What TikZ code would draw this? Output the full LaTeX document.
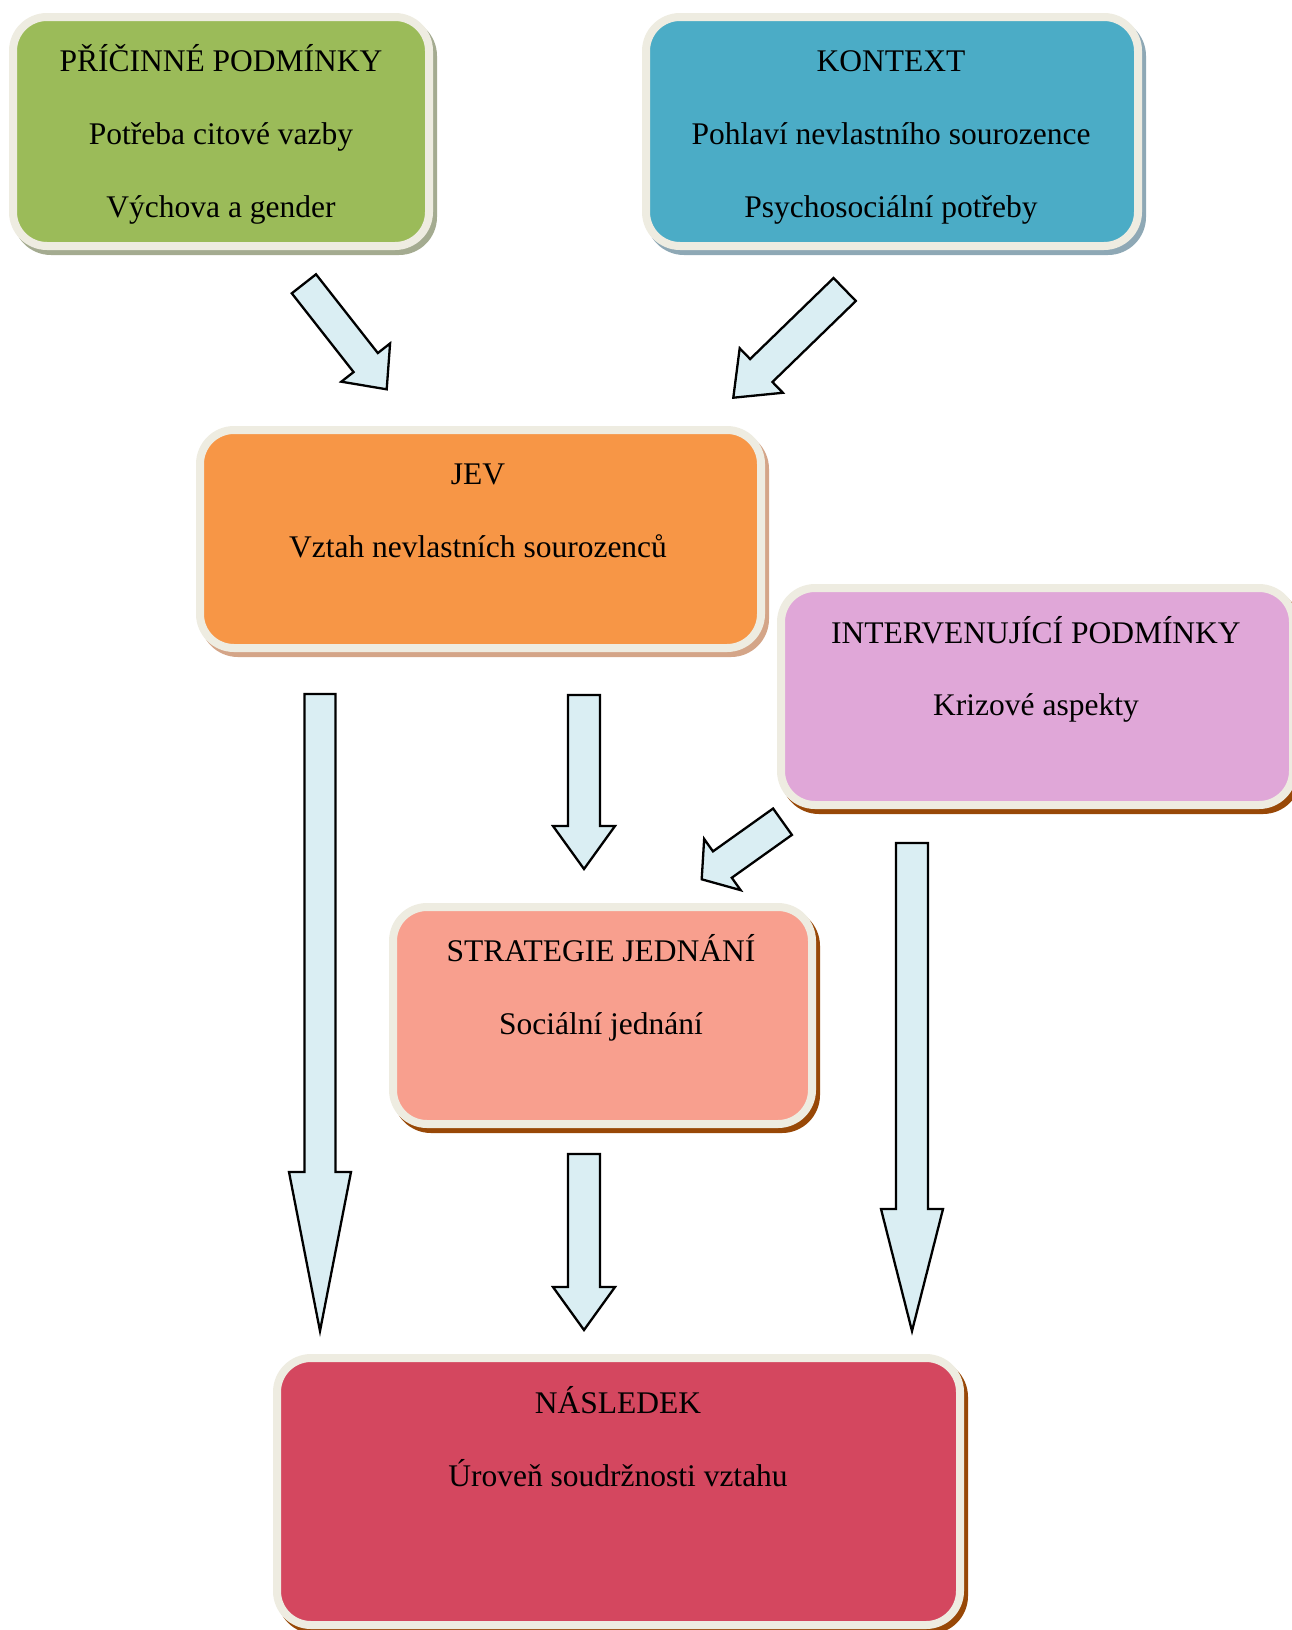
\documentclass[tikz,border=0pt]{standalone}
\usepackage{fontspec}
\setmainfont{Liberation Serif}
\usetikzlibrary{calc,shadows}
\definecolor{cream}{HTML}{EEECE1}
\definecolor{cgreen}{HTML}{9BBB59}
\definecolor{cblue}{HTML}{4BACC6}
\definecolor{corange}{HTML}{F79646}
\definecolor{cviolet}{HTML}{E0A7D8}
\definecolor{csalmon}{HTML}{F89F8E}
\definecolor{cred}{HTML}{D4475F}
\definecolor{afill}{HTML}{DAEEF3}
\definecolor{shgreen}{HTML}{A4AB90}
\definecolor{shblue}{HTML}{8EA8B5}
\definecolor{shtan}{HTML}{D4A588}
\definecolor{shbrown}{HTML}{984807}
\tikzset{
  box/.style={rectangle, rounded corners=34pt, draw=cream, line width=8pt, inner sep=0pt},
  sh/.style={general shadow={fill=#1, draw=#1, shadow xshift=4pt, shadow yshift=-5pt}},
  txt/.style={font=\fontsize{31.5}{36}\selectfont, anchor=base, inner sep=0pt},
  barrow/.style={draw=black, line width=2.3pt, fill=afill, line join=miter}
}
\newcommand\blockarr[5]{%
  \coordinate (hb) at ($(#2)!#5!(#1)$);
  \draw[barrow] ($(#1)!#3!90:(#2)$) -- ($(hb)!#3!-90:(#1)$) -- ($(hb)!#4!-90:(#1)$) -- (#2)
    -- ($(hb)!#4!90:(#1)$) -- ($(hb)!#3!90:(#1)$) -- ($(#1)!#3!-90:(#2)$) -- cycle;}
\begin{document}
\begin{tikzpicture}[x=1pt,y=-1pt]
\useasboundingbox (0,0) rectangle (1292,1630);

% boxes
\node[box, sh=shgreen, fill=cgreen, minimum width=416pt, minimum height=229pt] (cause) at (221,131.5) {};
\node[box, sh=shblue, fill=cblue, minimum width=492pt, minimum height=229pt] (ctx) at (892,131.5) {};
\node[box, sh=shtan, fill=corange, minimum width=561pt, minimum height=218pt] (jev) at (480.5,539) {};
\node[box, sh=shbrown, fill=cviolet, minimum width=512pt, minimum height=217pt] (interv) at (1037,696.5) {};
\node[box, sh=shbrown, fill=csalmon, minimum width=419pt, minimum height=217pt] (strat) at (602.5,1015.5) {};
\node[box, sh=shbrown, fill=cred, minimum width=683pt, minimum height=267pt] (nasl) at (618.5,1491.5) {};

% texts
\node[txt] (c1) at (221,71) {PŘÍČINNÉ PODMÍNKY};
\node[txt] (c2) at (221,144) {Potřeba citové vazby};
\node[txt] (c3) at (221,217) {Výchova a gender};
\node[txt] (k1) at (891,71) {KONTEXT};
\node[txt] (k2) at (891,144) {Pohlaví nevlastního sourozence};
\node[txt] (k3) at (891,217) {Psychosociální potřeby};
\node[txt] (j1) at (478,484) {JEV};
\node[txt] (j2) at (478,557) {Vztah nevlastních sourozenců};
\node[txt] (i1) at (1036,643) {INTERVENUJÍCÍ PODMÍNKY};
\node[txt] (i2) at (1036,715) {Krizové aspekty};
\node[txt] (s1) at (601,961) {STRATEGIE JEDNÁNÍ};
\node[txt] (s2) at (601,1034) {Sociální jednání};
\node[txt] (n1) at (618,1413) {NÁSLEDEK};
\node[txt] (n2) at (618,1486) {Úroveň soudržnosti vztahu};

% arrow end points
\coordinate (aAs) at (303.9,283.8); \coordinate (aAe) at (386.7,389.3);
\coordinate (aBs) at (844.7,289.5); \coordinate (aBe) at (733.3,397.7);
\coordinate (aCs) at (320,694);     \coordinate (aCe) at (320,1331);
\coordinate (aDs) at (584,695);     \coordinate (aDe) at (584,869);
\coordinate (aEs) at (782.5,821.7); \coordinate (aEe) at (701.7,879.3);
\coordinate (aFs) at (912,843);     \coordinate (aFe) at (912,1331);
\coordinate (aGs) at (584,1154);    \coordinate (aGe) at (584,1330);

\blockarr{aAs}{aAe}{15.4pt}{31pt}{34pt}
\blockarr{aBs}{aBe}{16pt}{31pt}{39pt}
\blockarr{aCs}{aCe}{15.5pt}{31pt}{159pt}
\blockarr{aDs}{aDe}{16pt}{31pt}{43pt}
\blockarr{aEs}{aEe}{16.2pt}{31.4pt}{25.4pt}
\blockarr{aFs}{aFe}{16pt}{31pt}{122pt}
\blockarr{aGs}{aGe}{16pt}{31pt}{43pt}
\end{tikzpicture}
\end{document}
